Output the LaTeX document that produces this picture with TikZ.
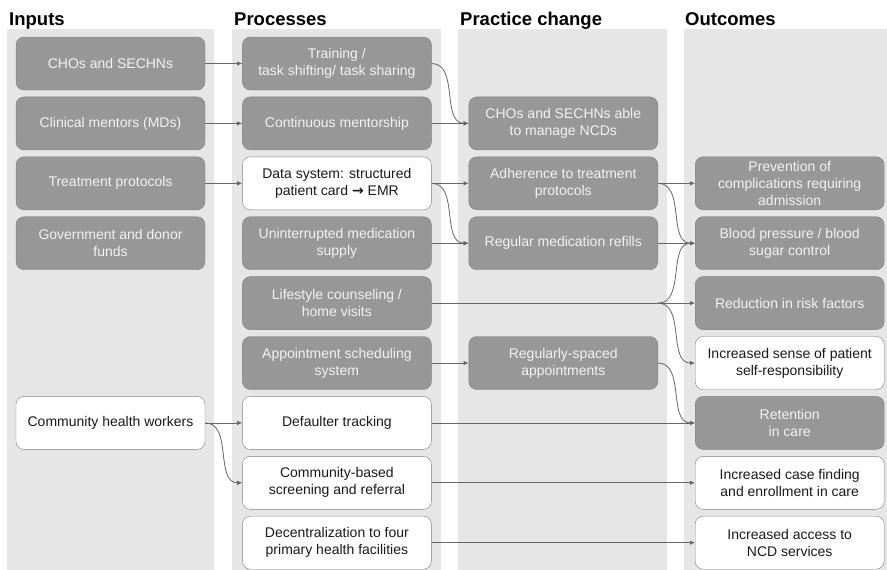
\documentclass[tikz,border=0pt]{standalone}
\usepackage{fontspec}
\setmainfont{Liberation Sans}
\newfontfamily\symfont{DejaVu Sans}
\usetikzlibrary{arrows.meta, positioning}
\definecolor{colbg}{HTML}{E6E6E6}
\definecolor{boxfill}{HTML}{979797}
\definecolor{boxline}{HTML}{7F7F7F}
\definecolor{linkgray}{HTML}{666666}
\tikzset{
    box/.style = {draw=boxline, rounded corners=8pt, minimum width=189pt, minimum height=53pt, inner sep=1pt, align=center, font=\fontsize{14}{17}\selectfont},
    dark/.style = {box, fill=boxfill, text=white!95!black},
    light/.style = {box, fill=white, text=black!90},
    title/.style = {anchor=base west, inner sep=0pt, font=\fontsize{18.5}{22}\selectfont\bfseries},
    column/.style = {fill=colbg},
    link/.style = {draw=linkgray, line width=0.8pt}
}

\begin{document}
\begin{tikzpicture}[x=1pt, y=1pt, node distance=6.5pt and 37pt, >={Latex[length=5pt,width=4.5pt]}]
    \useasboundingbox (0,0) rectangle (887,-570);
    % Columns
    \fill[column] (7,-29) rectangle (214,-570);
    \fill[column] (232,-29) rectangle (441,-570);
    \fill[column] (458,-29) rectangle (667,-570);
    \fill[column] (684,-29) rectangle (887,-570);

    % Titles
    \node[title] (tin) at (9,-25) {Inputs};
    \node[title] (tpro) at (234,-25) {Processes};
    \node[title] (tpra) at (460,-25) {Practice change};
    \node[title] (tout) at (685,-25) {Outcomes};

    % Inputs
    \node[dark] (in1) at (110.5,-63.5) {CHOs and SECHNs};
    \node[dark, below=of in1] (in2) {Clinical mentors (MDs)};
    \node[dark, below=of in2] (in3) {Treatment protocols};
    \node[dark, below=of in3] (in4) {Government and donor\\funds};

    % Processes
    \node[dark, right=of in1] (p1) {Training /\\task shifting/ task sharing};
    \node[dark, below=of p1] (p2) {Continuous mentorship};
    \node[light, below=of p2] (p3) {Data system: structured\\patient card {\symfont\bfseries →} EMR};
    \node[dark, below=of p3] (p4) {Uninterrupted medication\\supply};
    \node[dark, below=of p4] (p5) {Lifestyle counseling /\\home visits};
    \node[dark, below=of p5] (p6) {Appointment scheduling\\system};
    \node[light, below=of p6] (p7) {Defaulter tracking};
    \node[light, below=of p7] (p8) {Community-based\\screening and referral};
    \node[light, below=of p8] (p9) {Decentralization to four\\primary health facilities};
    \node[light, left=of p7] (in7) {Community health workers};

    % Practice change
    \node[dark, right=of p2] (c2) {CHOs and SECHNs able\\to manage NCDs};
    \node[dark, below=of c2] (c3) {Adherence to treatment\\protocols};
    \node[dark, below=of c3] (c4) {Regular medication refills};
    \node[dark, right=of p6] (c6) {Regularly-spaced\\appointments};

    % Outcomes
    \node[dark, right=of c3] (o3) {Prevention of\\complications requiring\\admission};
    \node[dark, below=of o3] (o4) {Blood pressure / blood\\sugar control};
    \node[dark, below=of o4] (o5) {Reduction in risk factors};
    \node[light, below=of o5] (o6) {Increased sense of patient\\self-responsibility};
    \node[dark, below=of o6] (o7) {Retention\\in care};
    \node[light, below=of o7] (o8) {Increased case finding\\and enrollment in care};
    \node[light, below=of o8] (o9) {Increased access to\\NCD services};

    % Arrows
    \draw[link, ->] (in1) -- (p1);
    \draw[link, ->] (in2) -- (p2);
    \draw[link, ->] (in3) -- (p3);
    \draw[link, ->] (in7) -- (p7);
    \draw[link, ->] (in7.east) to[out=0, in=180] (p8.west);
    \draw[link, ->] (p1.east) to[out=0, in=180] (c2.west);
    \draw[link, ->] (p2) -- (c2);
    \draw[link, ->] (p3) -- (c3);
    \draw[link, ->] (p3.east) to[out=0, in=180] (c4.west);
    \draw[link, ->] (p4) -- (c4);
    \draw[link, ->] (p6) -- (c6);
    \draw[link, ->] (c3) -- (o3);
    \draw[link, ->] (c3.east) to[out=0, in=180] (o4.west);
    \draw[link, ->] (c4) -- (o4);
    \coordinate (split) at (c4.east |- p5.east); % branch of lifestyle line
    \draw[link] (p5.east) -- (split);
    \draw[link, ->] (split) to[out=0, in=180] (o4.west);
    \draw[link, ->] (split) -- (o5.west);
    \draw[link, ->] (split) to[out=0, in=180] (o6.west);
    \draw[link, ->] (c6.east) to[out=0, in=180] (o7.west);
    \draw[link, ->] (p7) -- (o7);
    \draw[link, ->] (p8) -- (o8);
    \draw[link, ->] (p9) -- (o9);
\end{tikzpicture}
\end{document}
